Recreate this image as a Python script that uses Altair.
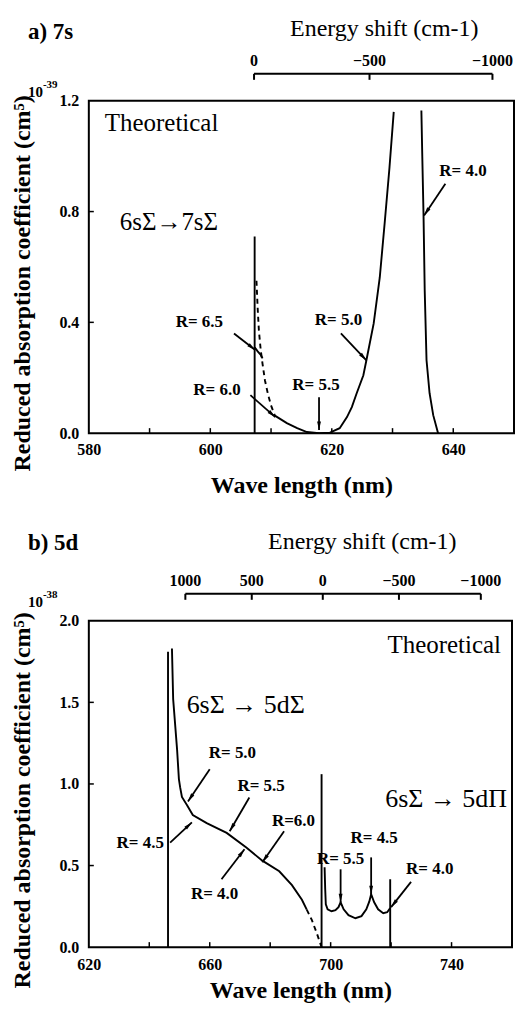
import math
import altair as alt
import pandas as pd

FONT = "Liberation Serif"

# ---------------- Panel a) 7s ----------------
a_xdom = [580, 650]
a_ydom = [0.0, 1.2]
a_xlabels = [580, 600, 620, 640]
a_xminor = [590, 600, 610, 620, 630, 640]
a_ylabels = [0.0, 0.4, 0.8, 1.2]
a_yminor = [0.4, 0.8]

a_vert_x = [607.3, 607.3]
a_vert_y = [0.0, 0.71]
a_hook_x = [607.3, 607.8, 608.3, 608.6]
a_hook_y = [0.31, 0.295, 0.283, 0.27]
a_dash_x = [607.6, 607.8, 608.0, 608.3, 608.6, 609.0, 609.5, 610.0, 610.6]
a_dash_y = [0.55, 0.45, 0.37, 0.30, 0.25, 0.19, 0.14, 0.10, 0.065]
a_main_x = [610.5, 612.6, 614.3, 615.9, 617.9, 619.7, 621.3, 622.5, 623.3, 624.1,
            625.2, 625.7, 626.9, 627.9, 628.7, 629.5, 630.2]
a_main_y = [0.065, 0.036, 0.018, 0.004, 0.0, 0.002, 0.018, 0.058, 0.094, 0.144,
            0.209, 0.263, 0.396, 0.562, 0.757, 0.959, 1.16]
a_r4_x = [634.75, 634.9, 635.1, 635.3, 635.6, 636.1, 636.7, 637.5]
a_r4_y = [1.165, 1.0, 0.793, 0.515, 0.263, 0.144, 0.065, 0.0]

a_labels = ["R= 6.5", "R= 6.0", "R= 5.5", "R= 5.0", "R= 4.0"]
a_label_x = [598.2, 601.1, 617.4, 621.1, 641.6]
a_label_y = [0.40, 0.155, 0.173, 0.407, 0.948]
a_arr_x1 = [603.9, 606.6, 617.9, 621.5, 638.7]
a_arr_y1 = [0.36, 0.137, 0.13, 0.36, 0.90]
a_arr_x2 = [607.4, 610.7, 617.9, 625.7, 635.2]
a_arr_y2 = [0.30, 0.058, 0.011, 0.263, 0.786]

a_energy = [0, -500, -1000]
a_lam0 = 607.2

# ---------------- Panel b) 5d ----------------
b_xdom = [620, 760]
b_ydom = [0.0, 2.0]
b_xlabels = [620, 660, 700, 740]
b_xminor = [640, 660, 680, 700, 720, 740]
b_ylabels = [0.0, 0.5, 1.0, 1.5, 2.0]
b_yminor = [0.5, 1.0, 1.5]

b_v1_x = [646.2, 646.2]
b_v1_y = [0.0, 1.81]
b_sig_x = [647.5, 647.9, 649.2, 649.8, 650.2, 650.8, 652.5, 654.4, 659.0, 665.6,
           672.1, 677.4, 683.0, 687.2, 690.5, 692.1]
b_sig_y = [1.83, 1.52, 1.21, 1.03, 0.98, 0.92, 0.87, 0.81, 0.76, 0.70,
           0.61, 0.53, 0.465, 0.38, 0.29, 0.23]
b_sigd_x = [692.1, 693.8, 695.4, 697.0]
b_sigd_y = [0.23, 0.165, 0.086, 0.0]
b_v2_x = [697.0, 697.0]
b_v2_y = [0.0, 1.06]
b_pi_x = [698.0, 698.2, 698.4, 699.0, 700.3, 701.6, 702.6, 703.3, 704.3, 705.9,
          708.2, 710.2, 711.8, 712.8, 713.4, 714.4, 715.7, 717.4, 718.7, 719.7]
b_pi_y = [0.49, 0.355, 0.263, 0.232, 0.22, 0.226, 0.245, 0.275, 0.232, 0.196,
          0.177, 0.19, 0.232, 0.28, 0.324, 0.275, 0.232, 0.208, 0.214, 0.239]
b_v3_x = [719.7, 719.7]
b_v3_y = [0.0, 0.416]

b_labels = ["R= 5.0", "R= 4.5", "R= 5.5", "R=6.0", "R= 4.0", "R= 5.5", "R= 4.5", "R= 4.0"]
b_label_x = [667.5, 637.0, 677.0, 687.7, 661.6, 703.3, 714.4, 732.8]
b_label_y = [1.19, 0.64, 0.985, 0.77, 0.324, 0.54, 0.67, 0.477]
b_arr_x1 = [660.0, 646.9, 673.1, 684.6, 663.9, 703.3, 713.4, 726.6]
b_arr_y1 = [1.09, 0.64, 0.917, 0.71, 0.416, 0.477, 0.55, 0.40]
b_arr_x2 = [652.8, 654.1, 666.6, 677.4, 671.5, 703.3, 713.4, 720.0]
b_arr_y2 = [0.893, 0.765, 0.71, 0.52, 0.60, 0.275, 0.324, 0.245]

b_energy = [1000, 500, 0, -500, -1000]
b_lam0 = 697.4

ARROW_PATH = "M0,0L0.5,2.2L-0.5,2.2Z"


def line_df(series):
    rows = []
    for name, xs, ys in series:
        for i, (x, y) in enumerate(zip(xs, ys)):
            rows.append({"s": name, "i": i, "x": x, "y": y})
    return pd.DataFrame(rows)


def fmt_energy(e):
    return ("\u2212" + str(abs(e))) if e < 0 else str(e)


def build_panel(W, H, xdom, ydom, xlabels, xminor, ylabels, yminor,
                solid, dashed, labels, lx, ly, ax1, ay1, ax2, ay2,
                energy, lam0, texts, xlabpad, xtitlepad):
    xs = alt.Scale(domain=xdom, nice=False, zero=False)
    ys = alt.Scale(domain=ydom, nice=False, zero=False)
    sx = W / (xdom[1] - xdom[0])
    sy = H / (ydom[1] - ydom[0])
    xax = alt.Axis(values=xlabels, title="Wave length (nm)", format="d",
                   labelFlush=False, labelOverlap=False,
                   labelPadding=xlabpad, titlePadding=xtitlepad)
    yax = alt.Axis(values=ylabels, format=".1f", labelFlush=False, labelOverlap=False,
                   title="Reduced absorption coefficient (cm\u2075)",
                   labelPadding=10, titlePadding=24, titleY=H / 2 + 16)

    def X(f):
        return alt.X(f, scale=xs, axis=xax)

    def Y(f):
        return alt.Y(f, scale=ys, axis=yax)

    solid_df = line_df(solid)
    base = alt.Chart(solid_df).mark_line(color="black", strokeWidth=1.9).encode(
        x=X("x:Q"), y=Y("y:Q"), detail="s:N", order="i:Q")
    dash_df = line_df(dashed)
    dash = alt.Chart(dash_df).mark_line(color="black", strokeWidth=1.9, strokeDash=[5, 4]).encode(
        x=X("x:Q"), y=Y("y:Q"), detail="s:N", order="i:Q")
    xt = alt.Chart(pd.DataFrame({"x": xminor})).mark_rule(color="black", strokeWidth=1.5).encode(
        x=X("x:Q"), y=alt.value(H), y2=alt.value(H - 5))
    yt = alt.Chart(pd.DataFrame({"y": yminor})).mark_rule(color="black", strokeWidth=1.5).encode(
        y=Y("y:Q"), x=alt.value(0), x2=alt.value(5))

    lab_df = pd.DataFrame({"x": lx, "y": ly, "t": labels})
    labs = alt.Chart(lab_df).mark_text(font=FONT, fontSize=17, fontWeight="bold",
                                       color="black").encode(
        x=X("x:Q"), y=Y("y:Q"), text="t:N")

    angs = [(math.degrees(math.atan2((b - a) * sx, (d - c) * sy)) + 360) % 360
            for a, b, c, d in zip(ax1, ax2, ay1, ay2)]
    arr_df = pd.DataFrame({"x": ax1, "y": ay1, "x2": ax2, "y2": ay2, "ang": angs})
    arr = alt.Chart(arr_df).mark_rule(color="black", strokeWidth=1.8).encode(
        x=X("x:Q"), y=Y("y:Q"), x2="x2:Q", y2="y2:Q")
    head_df = pd.DataFrame({"x": ax2, "y": ay2, "ang": angs})
    heads = alt.Chart(head_df).mark_point(shape=ARROW_PATH, filled=True, color="black",
                                          size=60, opacity=1, strokeWidth=0).encode(
        x=X("x:Q"), y=Y("y:Q"), angle=alt.Angle("ang:Q", scale=None))

    ew = [1e7 / (1e7 / lam0 + e) for e in energy]
    e_df = pd.DataFrame({"x": ew, "lab": [fmt_energy(e) for e in energy]})
    eline_df = pd.DataFrame({"x": [min(ew)], "x2": [max(ew)]})
    e_line = alt.Chart(eline_df).mark_rule(color="black", strokeWidth=2).encode(
        x=X("x:Q"), x2="x2:Q", y=alt.value(-27))
    e_ticks = alt.Chart(e_df).mark_rule(color="black", strokeWidth=2).encode(
        x=X("x:Q"), y=alt.value(-27), y2=alt.value(-21))
    e_labs = alt.Chart(e_df).mark_text(font=FONT, fontSize=16, fontWeight="bold",
                                       baseline="alphabetic", color="black").encode(
        x=X("x:Q"), y=alt.value(-35), text="lab:N")

    layers = [base, dash, xt, yt, labs, arr, heads, e_line, e_ticks, e_labs]
    for (t, px, py, size, weight, align) in texts:
        layers.append(
            alt.Chart(pd.DataFrame({"t": [t]})).mark_text(
                font=FONT, fontSize=size, fontWeight=weight, align=align,
                baseline="alphabetic", color="black").encode(
                x=alt.value(px), y=alt.value(py), text="t:N"))
    return alt.layer(*layers).properties(width=W, height=H)


top = build_panel(
    426, 333, a_xdom, a_ydom, a_xlabels, a_xminor, a_ylabels, a_yminor,
    [("v", a_vert_x, a_vert_y), ("h", a_hook_x, a_hook_y),
     ("m", a_main_x, a_main_y), ("r4", a_r4_x, a_r4_y)],
    [("d", a_dash_x, a_dash_y)],
    a_labels, a_label_x, a_label_y, a_arr_x1, a_arr_y1, a_arr_x2, a_arr_y2,
    a_energy, a_lam0,
    [("a) 7s", -61, -62, 23, "bold", "left"),
     ("Energy shift (cm-1)", 296, -65, 24, "normal", "center"),
     ("10", -61, -4, 15, "bold", "left"),
     ("-39", -46, -13, 11, "bold", "left"),
     ("Theoretical", 16, 30, 25, "normal", "left"),
     ("6s\u03a3\u21927s\u03a3", 31, 129, 25, "normal", "left")],
    8, 16)

bottom = build_panel(
    424, 327, b_xdom, b_ydom, b_xlabels, b_xminor, b_ylabels, b_yminor,
    [("v1", b_v1_x, b_v1_y), ("sig", b_sig_x, b_sig_y), ("v2", b_v2_x, b_v2_y),
     ("pi", b_pi_x, b_pi_y), ("v3", b_v3_x, b_v3_y)],
    [("sd", b_sigd_x, b_sigd_y)],
    b_labels, b_label_x, b_label_y, b_arr_x1, b_arr_y1, b_arr_x2, b_arr_y2,
    b_energy, b_lam0,
    [("b) 5d", -61, -71, 23, "bold", "left"),
     ("Energy shift (cm-1)", 274, -72, 24, "normal", "center"),
     ("10", -61, -14, 15, "bold", "left"),
     ("-38", -46, -23, 11, "bold", "left"),
     ("Theoretical", 413, 32, 25, "normal", "right"),
     ("6s\u03a3 \u2192 5d\u03a3", 98, 92, 26, "normal", "left"),
     ("6s\u03a3 \u2192 5d\u03a0", 297, 187, 26, "normal", "left")],
    9, 6)

chart = alt.vconcat(top, bottom, spacing=31).properties(
    padding={"left": 10, "top": 15, "right": 0, "bottom": 0},
    background="white",
).configure_view(stroke="black", strokeWidth=2).configure_axis(
    grid=False, ticks=False, domain=False,
    labelFont=FONT, labelFontSize=16, labelFontWeight="bold", labelColor="black",
    titleFont=FONT, titleFontSize=24, titleFontWeight="bold", titleColor="black",
)

chart.save("out.html", embed_options={"renderer": "svg", "actions": False})
